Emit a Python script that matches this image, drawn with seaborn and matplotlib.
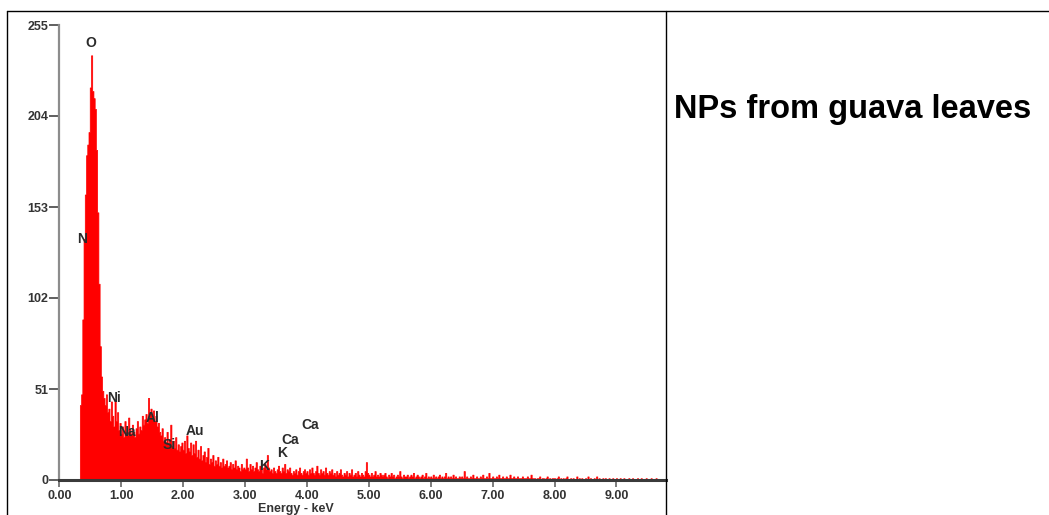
import numpy as np
import pandas as pd
import matplotlib
matplotlib.use('Agg')
import matplotlib.pyplot as plt
from matplotlib.lines import Line2D
import seaborn as sns

# EDS spectrum, counts per 0.02 keV channel
# each segment: (start energy in keV, counts)
seg_0 = (0.34, [42, 48, 90, 135, 160, 182, 188, 195, 220, 238, 218, 214, 208, 185, 150, 110, 75,
                58, 50, 46, 42, 48, 38, 40, 33, 44, 36, 30, 45, 33, 38, 28, 32])
seg_1 = (1.00, [26, 30, 24, 33, 27, 25, 35, 28, 26, 31, 27, 24, 29, 33, 26, 30, 28, 36, 31, 34,
                37, 32, 46, 38, 40, 35, 39, 33, 36, 30, 32, 27, 25, 29, 22, 24, 21, 27, 20, 23,
                31, 19, 22, 18, 24, 17, 20, 16, 19, 21])
seg_2 = (2.00, [17, 22, 15, 25, 18, 16, 21, 14, 20, 15, 22, 13, 17, 12, 19, 11, 14, 16, 10, 13,
                18, 9, 12, 10, 14, 8, 11, 9, 13, 8, 10, 7, 12, 8, 9, 11, 7, 8, 10, 6,
                9, 7, 11, 6, 8, 7, 5, 9, 6, 7])
seg_3 = (3.00, [6, 12, 7, 5, 9, 6, 8, 5, 7, 10, 6, 5, 8, 6, 4, 7, 9, 6, 14, 7,
                5, 6, 4, 7, 5, 4, 6, 8, 5, 4, 7, 5, 9, 4, 6, 5, 7, 4, 3, 5,
                4, 6, 3, 5, 7, 4, 3, 5, 6, 4])
seg_4 = (4.00, [5, 3, 6, 4, 7, 4, 3, 5, 8, 4, 3, 6, 4, 5, 3, 7, 4, 3, 5, 4,
                6, 3, 4, 2, 5, 3, 4, 6, 3, 2, 4, 3, 5, 2, 4, 3, 6, 2, 3, 4,
                2, 5, 3, 2, 4, 3, 2, 5, 10, 4])
seg_5 = (5.00, [3, 2, 4, 2, 3, 5, 2, 3, 2, 4, 3, 2, 3, 4, 2, 1, 3, 2, 4, 2,
                3, 1, 2, 3, 2, 5, 2, 1, 3, 2, 2, 3, 1, 2, 3, 2, 4, 1, 2, 3,
                2, 1, 2, 3, 1, 2, 4, 1, 2, 1])
seg_6 = (6.00, [2, 1, 3, 1, 2, 1, 2, 3, 1, 2, 1, 2, 4, 1, 2, 1, 2, 1, 3, 1,
                2, 1, 1, 2, 1, 2, 1, 5, 1, 2, 1, 1, 2, 1, 3, 1, 1, 2, 1, 1,
                2, 1, 3, 1, 1, 2, 1, 4, 1, 1])
seg_7 = (7.00, [2, 1, 1, 2, 1, 3, 1, 1, 2, 1, 1, 2, 1, 1, 3, 1, 1, 2, 1, 1,
                2, 1, 1, 1, 2, 1, 1, 1, 2, 1, 1, 3, 1, 1, 1, 0, 1, 1, 2, 0,
                1, 1, 0, 1, 2, 0, 1, 0, 1, 1])
seg_8 = (8.00, [1, 0, 1, 2, 0, 1, 0, 1, 0, 1, 2, 0, 0, 1, 0, 1, 0, 0, 2, 0,
                1, 0, 1, 0, 0, 1, 0, 2, 0, 1, 0, 0, 1, 0, 2, 0, 1, 0, 0, 1,
                0, 1, 0, 0, 1, 0, 0, 1, 0, 0])
seg_9 = (9.00, [1, 0, 0, 1, 0, 0, 1, 0, 0, 0, 1, 0, 0, 1, 0, 0, 0, 1, 0, 0,
                1, 0, 0, 0, 1, 0, 0, 0, 1, 0, 0, 0, 1, 0, 0, 0, 0, 0, 0, 0])

# element labels (name, energy keV, height in counts)
peak_names = ['O', 'N', 'Ni', 'Na', 'Al', 'Si', 'Au', 'K', 'K', 'Ca', 'Ca']
peak_kev = [0.51, 0.37, 0.88, 1.09, 1.50, 1.77, 2.19, 3.31, 3.60, 3.73, 4.05]
peak_cnt = [245, 135, 46, 27, 35, 19.5, 27.5, 7.8, 15, 22.5, 31]

y_ticks = [0, 51, 102, 153, 204, 255]
x_ticks = [0, 1, 2, 3, 4, 5, 6, 7, 8, 9]

chan = 0.02
energy, counts = [], []
for start, vals in [seg_0, seg_1, seg_2, seg_3, seg_4, seg_5, seg_6, seg_7, seg_8, seg_9]:
    energy.extend(start + chan * np.arange(len(vals)))
    counts.extend(vals)
df = pd.DataFrame({'energy': energy, 'counts': counts})
lo = df['energy'].min() - chan / 2
hi = df['energy'].max() + chan / 2

sns.set_style('white')
plt.rcParams['font.family'] = ['Liberation Sans', 'DejaVu Sans']

W, H = 1049, 515
fig = plt.figure(figsize=(W / 100, H / 100), dpi=100)
ax = fig.add_axes([59.4 / W, 35 / H, (666 - 59.4) / W, 455 / H])

sns.histplot(data=df, x='energy', weights='counts', binwidth=chan, binrange=(lo, hi),
             element='step', fill=True, color='#ff0000', alpha=1, linewidth=0.5, ax=ax)

ax.set_xlim(0, 9.8)
ax.set_ylim(0, 255)
ax.set_xlabel('')
ax.set_ylabel('')
ax.set_yticks(y_ticks)
ax.set_yticklabels([str(v) for v in y_ticks], fontweight='bold', color='#333333')
ax.set_xticks(x_ticks)
ax.set_xticklabels([f'{v:.2f}' for v in x_ticks], fontweight='bold', color='#333333')
ax.tick_params(axis='y', direction='out', length=7, width=1.2, color='#444444', pad=1, labelsize=9, left=True)
ax.tick_params(axis='x', direction='out', length=5, width=1.2, color='#666666', pad=2, labelsize=9, bottom=True)

for side in ['top', 'right']:
    ax.spines[side].set_visible(False)
ax.spines['left'].set_color('#8c8c8c')
ax.spines['left'].set_linewidth(1.6)
ax.spines['bottom'].set_color('#3a3a3a')
ax.spines['bottom'].set_linewidth(2.2)

for name, e, c in zip(peak_names, peak_kev, peak_cnt):
    ax.text(e, c, name, ha='center', va='center', fontsize=10, fontweight='bold', color='#2b2b2b')

fig.text(296 / W, 1 - 503 / H, 'Energy - keV', ha='center', va='top', fontsize=9,
         fontweight='bold', color='#333333')
fig.text(674 / W, 1 - 118 / H, 'NPs from guava leaves', ha='left', va='baseline',
         fontsize=23.5, fontweight='bold', color='black')

# table cell borders
y_top = 1 - 11 / H
fig.add_artist(Line2D([7 / W, 1.0], [y_top, y_top], color='black', lw=1.0))
fig.add_artist(Line2D([7 / W, 7 / W], [0, y_top], color='black', lw=1.0))
fig.add_artist(Line2D([666 / W, 666 / W], [0, y_top], color='black', lw=1.0))

fig.savefig('out.png', dpi=100)
